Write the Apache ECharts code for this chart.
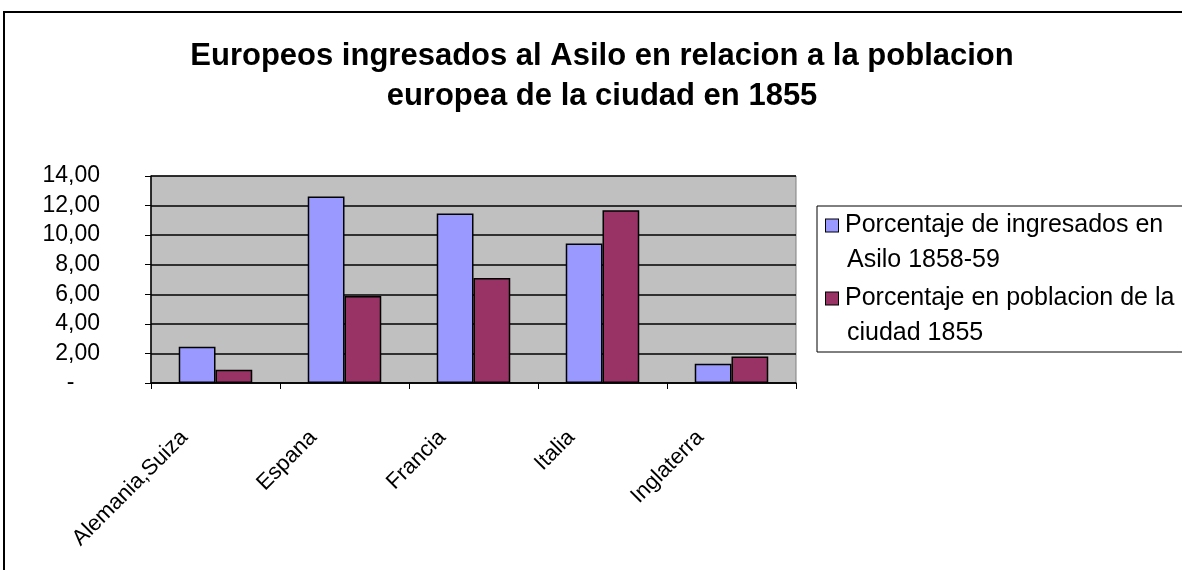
<!DOCTYPE html>
<html>
<head>
<meta charset="utf-8">
<script src="https://cdn.jsdelivr.net/npm/echarts@6/dist/echarts.min.js"></script>
<style>
  html, body { margin: 0; padding: 0; background: #fff; }
  #main { width: 1182px; height: 570px; }
</style>
</head>
<body>
<div id="main"></div>
<script>
"use strict";

const categories = ["Alemania,Suiza", "Espana", "Francia", "Italia", "Inglaterra"];
const ingresadosAsilo = [2.45, 12.62, 11.46, 9.43, 1.3];
const poblacionCiudad = [0.9, 5.88, 7.1, 11.68, 1.79];
const yTicks = [0, 2, 4, 6, 8, 10, 12, 14];

const seriesNames = ["Porcentaje de ingresados en Asilo 1858-59", "Porcentaje en poblacion de la ciudad 1855"];
// legend text is wrapped like the original
const legendLines = {
  [seriesNames[0]]: ["Porcentaje de ingresados en", "Asilo 1858-59", "m1"],
  [seriesNames[1]]: ["Porcentaje en poblacion de la", "ciudad 1855", "m2"],
};

let chartDom = document.getElementById("main");
let myChart = echarts.init(chartDom);

let option = {
  animation: false,
  textStyle: { fontFamily: "Liberation Sans, Arial, sans-serif" },
  title: {
    text: "Europeos ingresados al Asilo en relacion a la poblacion\neuropea de la ciudad en 1855",
    left: 597,
    top: 31,
    textAlign: "center",
    textStyle: {
      fontSize: 31,
      fontWeight: "bold",
      color: "#000",
      lineHeight: 40,
    },
  },
  graphic: [
    {
      type: "rect",
      shape: { x: 4, y: 12, width: 1300, height: 700 },
      style: { fill: "none", stroke: "#000", lineWidth: 2 },
      silent: true,
    },
  ],
  legend: {
    orient: "vertical",
    left: 817,
    top: 206,
    itemWidth: 0,
    itemHeight: 0,
    itemGap: 3,
    padding: [2, 40, 1, 3],
    borderColor: "#000",
    borderWidth: 1,
    backgroundColor: "#fff",
    data: seriesNames,
    formatter: (name) => {
      const l = legendLines[name];
      return "{" + l[2] + "|}{t|" + l[0] + "}\n{s|}{t|" + l[1] + "}";
    },
    textStyle: {
      fontSize: 25,
      color: "#000",
      lineHeight: 35,
      rich: {
        t: { fontSize: 25, color: "#000", lineHeight: 35, padding: [0, 0, 0, 7] },
        m1: { width: 12, height: 12, backgroundColor: "#9999FF", borderColor: "#000", borderWidth: 1 },
        m2: { width: 12, height: 12, backgroundColor: "#993366", borderColor: "#000", borderWidth: 1 },
        s: { width: 14, height: 12 },
      },
    },
  },
  grid: {
    left: 151,
    right: 386,
    top: 176,
    bottom: 187,
    show: true,
    backgroundColor: "#C0C0C0",
    borderColor: "#808080",
    borderWidth: 1,
  },
  xAxis: {
    type: "category",
    data: categories,
    axisLine: { lineStyle: { color: "#000", width: 1.5 } },
    axisTick: { show: true, length: 6, lineStyle: { color: "#000" } },
    axisLabel: {
      interval: 0,
      rotate: 45,
      margin: 20,
      padding: [0, 44, 0, 0],
      fontSize: 22,
      color: "#000",
    },
  },
  yAxis: {
    type: "value",
    min: yTicks[0],
    max: yTicks[yTicks.length - 1],
    interval: 2,
    axisLine: { show: true, lineStyle: { color: "#000", width: 1.5 } },
    axisTick: { show: true, length: 6, lineStyle: { color: "#000" } },
    splitLine: { lineStyle: { color: "#000", width: 1.5 } },
    axisLabel: {
      margin: 51,
      fontSize: 23,
      color: "#000",
      formatter: (v) => (v === 0 ? "-    " : v.toFixed(2).replace(".", ",")),
    },
  },
  series: [
    {
      name: seriesNames[0],
      type: "bar",
      data: ingresadosAsilo,
      barGap: "0%",
      barCategoryGap: "43%",
      itemStyle: { color: "#9999FF", borderColor: "#000", borderWidth: 1.5 },
    },
    {
      name: seriesNames[1],
      type: "bar",
      data: poblacionCiudad,
      barGap: "0%",
      barCategoryGap: "43%",
      itemStyle: { color: "#993366", borderColor: "#000", borderWidth: 1.5 },
    },
  ],
};

option && myChart.setOption(option);
</script>
</body>
</html>
